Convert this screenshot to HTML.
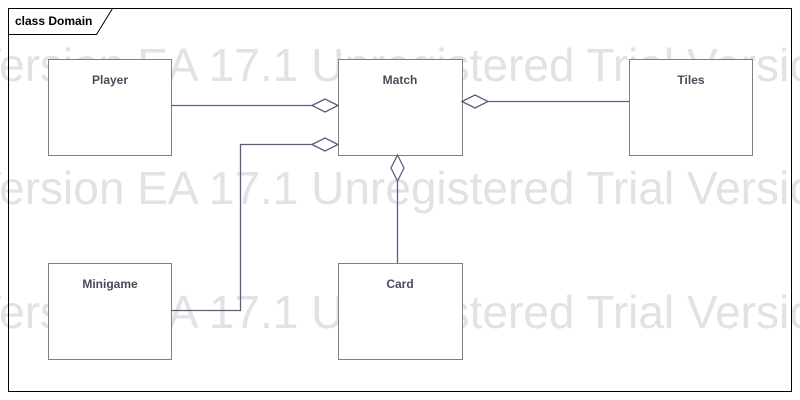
<!DOCTYPE html>
<html><head><style>
body{margin:0;background:#fff;}
svg{display:block}
</style></head><body>
<svg width="800" height="400" xmlns="http://www.w3.org/2000/svg" font-family="Liberation Sans, sans-serif">
<rect width="800" height="400" fill="#fff"/>
<g fill="#e2e2e2" font-size="46">
<text x="-29" y="81">Version EA 17.1 Unregistered Trial Version</text>
<text x="-29" y="204">Version EA 17.1 Unregistered Trial Version</text>
<text x="-29" y="328">Version EA 17.1 Unregistered Trial Version</text>
</g>
<rect x="8.5" y="8.5" width="783" height="383" fill="none" stroke="#000"/>
<path d="M8.5 34.5 H96.5 L112.5 8.5" fill="#fff" stroke="#000"/>
<text x="15" y="25" font-size="12" font-weight="bold" fill="#000">class Domain</text>
<g fill="#fff" stroke="#8e7a7a">
<rect x="48.5" y="59.5" width="123" height="96"/>
<rect x="338.5" y="59.5" width="124" height="96"/>
<rect x="629.5" y="59.5" width="123" height="96"/>
<rect x="48.5" y="263.5" width="123" height="96"/>
<rect x="338.5" y="263.5" width="124" height="96"/>
</g>
<g font-size="12" font-weight="bold" fill="#4a4a5a" text-anchor="middle">
<text x="110" y="84">Player</text>
<text x="400" y="84">Match</text>
<text x="691" y="84">Tiles</text>
<text x="110" y="288">Minigame</text>
<text x="400" y="288">Card</text>
</g>
<g fill="none" stroke="#5a6080" stroke-width="1.3">
<path d="M171 105.5 H312"/>
<path d="M312 105.5 L325 99 L338 105.5 L325 112 Z" fill="#fff"/>
<path d="M171 310.5 H240.5 V144.5 H312"/>
<path d="M312 144.5 L325 138 L338 144.5 L325 151 Z" fill="#fff"/>
<path d="M488 101.5 H629"/>
<path d="M462 101.5 L475 95 L488 101.5 L475 108 Z" fill="#fff"/>
<path d="M397.5 181 V263"/>
<path d="M397.5 155 L404 168 L397.5 181 L391 168 Z" fill="#fff"/>
</g>
</svg>
</body></html>
